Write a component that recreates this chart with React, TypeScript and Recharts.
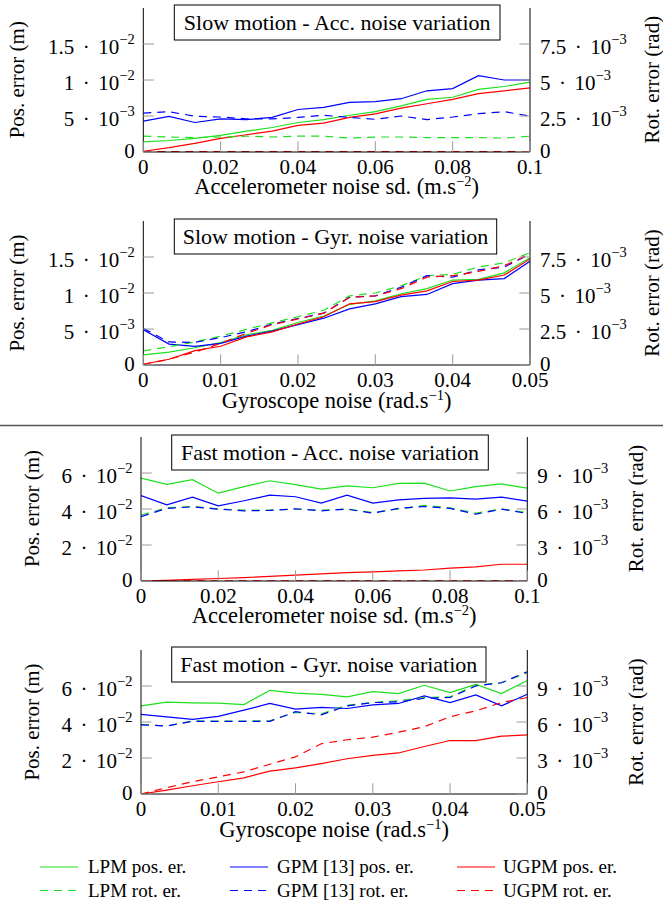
import React from 'react';
import { LineChart, Line, XAxis, YAxis } from 'recharts';

const FONT = '"Liberation Serif", "Times New Roman", Times, serif';
const GREEN = '#1ee01e';
const BLUE = '#0000ff';
const RED = '#ff0000';
const TICK_GRAY = '#9a9a9a';

// noise levels on the x axes
const accNoise = [0, 0.00667, 0.01333, 0.02, 0.02667, 0.03333, 0.04, 0.04667, 0.05333, 0.06, 0.06667, 0.07333, 0.08, 0.08667, 0.09333, 0.1];
const gyrNoise = [0, 0.00333, 0.00667, 0.01, 0.01333, 0.01667, 0.02, 0.02333, 0.02667, 0.03, 0.03333, 0.03667, 0.04, 0.04333, 0.04667, 0.05];

const accTicks = [0, 0.02, 0.04, 0.06, 0.08, 0.1];
const gyrTicks = [0, 0.01, 0.02, 0.03, 0.04, 0.05];
const slowPosTicks = [0, 0.005, 0.01, 0.015];
const slowRotTicks = [0, 0.0025, 0.005, 0.0075];
const fastPosTicks = [0, 0.02, 0.04, 0.06];
const fastRotTicks = [0, 0.003, 0.006, 0.009];

// slow motion - acc. noise
const slowAccLpmPos = [0.0014, 0.0016, 0.0019, 0.0023, 0.0029, 0.0034, 0.0041, 0.0045, 0.0051, 0.0056, 0.0064, 0.0073, 0.0076, 0.0087, 0.0091, 0.0097];
const slowAccGpmPos = [0.0043, 0.00495, 0.0041, 0.0046, 0.0045, 0.0048, 0.0059, 0.0062, 0.0069, 0.007, 0.0074, 0.0085, 0.0088, 0.0106, 0.01, 0.01];
const slowAccUgpmPos = [0.0001, 0.0006, 0.0012, 0.0019, 0.0024, 0.0029, 0.0037, 0.004, 0.0048, 0.0053, 0.0061, 0.0067, 0.0073, 0.0081, 0.0085, 0.0089];
const slowAccLpmRot = [0.0011, 0.00104, 0.001, 0.00104, 0.0011, 0.00104, 0.0011, 0.0011, 0.00097, 0.00104, 0.00104, 0.001, 0.001, 0.001, 0.00097, 0.0011];
const slowAccGpmRot = [0.0027, 0.0028, 0.00248, 0.00243, 0.0023, 0.0023, 0.0024, 0.00255, 0.0024, 0.00227, 0.0025, 0.00225, 0.00243, 0.00266, 0.0028, 0.0025];
const slowAccUgpmRot = [0.00002, 0.00002, 0.00002, 0.00002, 0.00002, 0.00002, 0.00002, 0.00002, 0.00002, 0.00002, 0.00002, 0.00002, 0.00002, 0.00002, 0.00002, 0.00002];

// slow motion - gyr. noise
const slowGyrLpmPos = [0.0014, 0.0018, 0.0024, 0.0031, 0.0042, 0.0048, 0.0059, 0.0068, 0.0084, 0.0089, 0.0099, 0.0106, 0.0118, 0.0119, 0.0128, 0.0149];
const slowGyrGpmPos = [0.0049, 0.0029, 0.0026, 0.003, 0.004, 0.0047, 0.0056, 0.0065, 0.0078, 0.0085, 0.0095, 0.0098, 0.0113, 0.0118, 0.012, 0.0144];
const slowGyrUgpmPos = [0.0001, 0.0008, 0.002, 0.0026, 0.0039, 0.0046, 0.0057, 0.0067, 0.0085, 0.0088, 0.0097, 0.0103, 0.0116, 0.0118, 0.0125, 0.0147];
const slowGyrLpmRot = [0.00097, 0.00127, 0.0016, 0.002, 0.00247, 0.00293, 0.00335, 0.0038, 0.0048, 0.005, 0.0055, 0.0062, 0.0063, 0.0068, 0.0071, 0.0078];
const slowGyrGpmRot = [0.00254, 0.0016, 0.00157, 0.0019, 0.0023, 0.00284, 0.00323, 0.0036, 0.0047, 0.0048, 0.0054, 0.0062, 0.0061, 0.0066, 0.0068, 0.0077];
const slowGyrUgpmRot = [0.00005, 0.0004, 0.0009, 0.0015, 0.0022, 0.0028, 0.0032, 0.0036, 0.0047, 0.0048, 0.0053, 0.0061, 0.0062, 0.0065, 0.0069, 0.0077];

// fast motion - acc. noise
const fastAccLpmPos = [0.0572, 0.0537, 0.0563, 0.0488, 0.0524, 0.0557, 0.0535, 0.0511, 0.0529, 0.0518, 0.0542, 0.0544, 0.05, 0.0524, 0.0539, 0.0516];
const fastAccGpmPos = [0.0474, 0.0423, 0.0466, 0.0418, 0.0446, 0.0477, 0.0468, 0.0433, 0.0477, 0.0433, 0.0451, 0.0459, 0.0462, 0.0455, 0.0466, 0.0444];
const fastAccUgpmPos = [0, 0.0004, 0.0009, 0.0014, 0.0019, 0.0026, 0.0033, 0.004, 0.0046, 0.0051, 0.0056, 0.0061, 0.0071, 0.0078, 0.0093, 0.0093];
const fastAccLpmRot = [0.0055, 0.0061, 0.0062, 0.006, 0.0059, 0.0059, 0.006, 0.0059, 0.006, 0.0057, 0.006, 0.0063, 0.0061, 0.00565, 0.006, 0.0057];
const fastAccGpmRot = [0.00537, 0.00605, 0.00618, 0.00599, 0.00585, 0.00588, 0.00602, 0.00585, 0.00599, 0.00565, 0.00605, 0.00621, 0.00605, 0.00557, 0.00599, 0.00563];
const fastAccUgpmRot = [0.00002, 0.00002, 0.00002, 0.00002, 0.00002, 0.00002, 0.00002, 0.00002, 0.00002, 0.00002, 0.00002, 0.00002, 0.00002, 0.00002, 0.00002, 0.00002];

// fast motion - gyr. noise
const fastGyrLpmPos = [0.049, 0.051, 0.0506, 0.0505, 0.0497, 0.0576, 0.056, 0.0554, 0.054, 0.0569, 0.0558, 0.0604, 0.0563, 0.0609, 0.0558, 0.0631];
const fastGyrGpmPos = [0.0442, 0.0429, 0.0415, 0.0431, 0.0466, 0.0503, 0.0472, 0.0481, 0.0475, 0.0495, 0.0503, 0.0545, 0.0508, 0.055, 0.049, 0.0554];
const fastGyrUgpmPos = [0, 0.0022, 0.0046, 0.0068, 0.009, 0.0127, 0.0145, 0.0169, 0.0196, 0.0215, 0.0228, 0.0264, 0.0297, 0.0297, 0.0321, 0.0328];
const fastGyrLpmRot = [0.00579, 0.00567, 0.00609, 0.00608, 0.00608, 0.0061, 0.0068, 0.00668, 0.0074, 0.00762, 0.00777, 0.00804, 0.0081, 0.00908, 0.00927, 0.0101];
const fastGyrGpmRot = [0.00576, 0.00567, 0.00606, 0.00606, 0.00606, 0.00606, 0.00686, 0.0066, 0.00735, 0.00762, 0.00768, 0.00798, 0.00804, 0.009, 0.00927, 0.01019];
const fastGyrUgpmRot = [0, 0.00053, 0.00102, 0.00143, 0.00185, 0.00248, 0.00309, 0.00419, 0.00452, 0.00474, 0.00515, 0.00561, 0.00644, 0.00693, 0.00762, 0.00804];

const PLOT_H = 144;
const TOP_PAD = 8;
const X_AXIS_H = 60;

const sci = (v: number) => {
  if (v === 0) return null;
  const e = Math.floor(Math.log10(v) + 1e-9);
  const m = Math.round((v / Math.pow(10, e)) * 100) / 100;
  return { m, e };
};

// tick label like "1.5 · 10^-2", centred on the tick the way pgfplots does it
const SciText = ({ x, y, v, anchor }: { x: number; y: number; v: number; anchor: string }) => {
  const p = sci(v);
  if (!p) {
    return (
      <text x={x} y={y + 6} textAnchor={anchor} fontFamily={FONT} fontSize={21} fill="#000">
        0
      </text>
    );
  }
  return (
    <text x={x} y={y + 9.5} textAnchor={anchor} fontFamily={FONT} fontSize={21} fill="#000">
      <tspan>{String(p.m)}</tspan>
      <tspan dx={8.5}>·</tspan>
      <tspan dx={8.5}>10</tspan>
      <tspan dy={-10} fontSize={14.5}>{`−${-p.e}`}</tspan>
    </text>
  );
};

const LeftTick = (props: any) => {
  const { x, y, payload } = props;
  return (
    <g>
      <line x1={x} x2={x + 10.7} y1={y} y2={y} stroke={TICK_GRAY} />
      <SciText x={x - 8.5} y={y} v={payload.value} anchor="end" />
    </g>
  );
};

const RightTick = (props: any) => {
  const { x, y, payload } = props;
  return (
    <g>
      <line x1={x - 10.7} x2={x} y1={y} y2={y} stroke={TICK_GRAY} />
      <SciText x={x + 10} y={y} v={payload.value} anchor="start" />
    </g>
  );
};

const BottomTick = (props: any) => {
  const { x, y, payload } = props;
  return (
    <g>
      <line x1={x} x2={x} y1={y} y2={y - 10.7} stroke={TICK_GRAY} />
      <text x={x} y={y + 22} textAnchor="middle" fontFamily={FONT} fontSize={21} fill="#000">
        {String(payload.value)}
      </text>
    </g>
  );
};

type PanelCfg = {
  title: string;
  xTitle: string;
  xSup: string;
  x: number[];
  xMax: number;
  xTicks: number[];
  posMax: number;
  posTicks: number[];
  rotMax: number;
  rotTicks: number[];
  lpmPos: number[];
  gpmPos: number[];
  ugpmPos: number[];
  lpmRot: number[];
  gpmRot: number[];
  ugpmRot: number[];
  left: number;
  right: number;
  bottom: number;
  box: { x: number; y: number; w: number };
  leftTitleX: number;
  rightTitleX: number;
};

const panels: PanelCfg[] = [
  {
    title: 'Slow motion - Acc. noise variation',
    xTitle: 'Accelerometer noise sd. (m.s',
    xSup: '−2',
    x: accNoise, xMax: 0.1, xTicks: accTicks,
    posMax: 0.02, posTicks: slowPosTicks, rotMax: 0.01, rotTicks: slowRotTicks,
    lpmPos: slowAccLpmPos, gpmPos: slowAccGpmPos, ugpmPos: slowAccUgpmPos,
    lpmRot: slowAccLpmRot, gpmRot: slowAccGpmRot, ugpmRot: slowAccUgpmRot,
    left: 143.3, right: 530, bottom: 151.7,
    box: { x: 174.3, y: 5, w: 325.7 },
    leftTitleX: 17, rightTitleX: 652,
  },
  {
    title: 'Slow motion - Gyr. noise variation',
    xTitle: 'Gyroscope noise (rad.s',
    xSup: '−1',
    x: gyrNoise, xMax: 0.05, xTicks: gyrTicks,
    posMax: 0.02, posTicks: slowPosTicks, rotMax: 0.01, rotTicks: slowRotTicks,
    lpmPos: slowGyrLpmPos, gpmPos: slowGyrGpmPos, ugpmPos: slowGyrUgpmPos,
    lpmRot: slowGyrLpmRot, gpmRot: slowGyrGpmRot, ugpmRot: slowGyrUgpmRot,
    left: 143.3, right: 530, bottom: 365,
    box: { x: 174.3, y: 219, w: 322.4 },
    leftTitleX: 17, rightTitleX: 652,
  },
  {
    title: 'Fast motion - Acc. noise variation',
    xTitle: 'Accelerometer noise sd. (m.s',
    xSup: '−2',
    x: accNoise, xMax: 0.1, xTicks: accTicks,
    posMax: 0.08, posTicks: fastPosTicks, rotMax: 0.012, rotTicks: fastRotTicks,
    lpmPos: fastAccLpmPos, gpmPos: fastAccGpmPos, ugpmPos: fastAccUgpmPos,
    lpmRot: fastAccLpmRot, gpmRot: fastAccGpmRot, ugpmRot: fastAccUgpmRot,
    left: 141, right: 527.3, bottom: 580.5,
    box: { x: 171.7, y: 435, w: 316.6 },
    leftTitleX: 32, rightTitleX: 636,
  },
  {
    title: 'Fast motion - Gyr. noise variation',
    xTitle: 'Gyroscope noise (rad.s',
    xSup: '−1',
    x: gyrNoise, xMax: 0.05, xTicks: gyrTicks,
    posMax: 0.08, posTicks: fastPosTicks, rotMax: 0.012, rotTicks: fastRotTicks,
    lpmPos: fastGyrLpmPos, gpmPos: fastGyrGpmPos, ugpmPos: fastGyrUgpmPos,
    lpmRot: fastGyrLpmRot, gpmRot: fastGyrGpmRot, ugpmRot: fastGyrUgpmRot,
    left: 141, right: 527.3, bottom: 794,
    box: { x: 171.7, y: 647, w: 314.3 },
    leftTitleX: 32, rightTitleX: 636,
  },
];

const seriesStyle = [
  { key: 'lpmPos', axis: 'pos', color: GREEN, dash: undefined },
  { key: 'gpmPos', axis: 'pos', color: BLUE, dash: undefined },
  { key: 'ugpmPos', axis: 'pos', color: RED, dash: undefined },
  { key: 'lpmRot', axis: 'rot', color: GREEN, dash: '8 6' },
  { key: 'gpmRot', axis: 'rot', color: BLUE, dash: '8 6' },
  { key: 'ugpmRot', axis: 'rot', color: RED, dash: '8 6' },
];

const legendItems = [
  { label: 'LPM pos. er.', color: GREEN, dash: undefined, col: 0, row: 0 },
  { label: 'GPM [13] pos. er.', color: BLUE, dash: undefined, col: 1, row: 0 },
  { label: 'UGPM pos. er.', color: RED, dash: undefined, col: 2, row: 0 },
  { label: 'LPM rot. er.', color: GREEN, dash: '8 6', col: 0, row: 1 },
  { label: 'GPM [13] rot. er.', color: BLUE, dash: '8 6', col: 1, row: 1 },
  { label: 'UGPM rot. er.', color: RED, dash: '8 6', col: 2, row: 1 },
];

const Panel = ({ cfg }: { cfg: PanelCfg }) => {
  const data = cfg.x.map((x, i) => ({
    x,
    lpmPos: cfg.lpmPos[i],
    gpmPos: cfg.gpmPos[i],
    ugpmPos: cfg.ugpmPos[i],
    lpmRot: cfg.lpmRot[i],
    gpmRot: cfg.gpmRot[i],
    ugpmRot: cfg.ugpmRot[i],
  }));
  const h = TOP_PAD + PLOT_H + X_AXIS_H;
  return (
    <div style={{ position: 'absolute', left: 0, top: cfg.bottom - PLOT_H - TOP_PAD, width: 663, height: h }}>
      <LineChart width={663} height={h} data={data} margin={{ top: TOP_PAD, right: 0, bottom: 0, left: 0 }}>
        <XAxis
          dataKey="x"
          type="number"
          domain={[0, cfg.xMax]}
          ticks={cfg.xTicks}
          interval={0}
          allowDataOverflow
          height={X_AXIS_H}
          tickLine={false}
          tickSize={0}
          tickMargin={0}
          axisLine={{ stroke: '#000' }}
          tick={(p: any) => <BottomTick {...p} />}
        />
        <YAxis
          yAxisId="pos"
          orientation="left"
          width={cfg.left}
          domain={[0, cfg.posMax]}
          ticks={cfg.posTicks}
          interval={0}
          allowDataOverflow
          tickLine={false}
          tickSize={0}
          tickMargin={0}
          axisLine={{ stroke: '#000' }}
          tick={(p: any) => <LeftTick {...p} />}
        />
        <YAxis
          yAxisId="rot"
          orientation="right"
          width={663 - cfg.right}
          domain={[0, cfg.rotMax]}
          ticks={cfg.rotTicks}
          interval={0}
          allowDataOverflow
          tickLine={false}
          tickSize={0}
          tickMargin={0}
          axisLine={{ stroke: '#000' }}
          tick={(p: any) => <RightTick {...p} />}
        />
        {seriesStyle.map((s) => (
          <Line
            key={s.key}
            yAxisId={s.axis}
            dataKey={s.key}
            type="linear"
            stroke={s.color}
            strokeWidth={1.2}
            strokeDasharray={s.dash}
            dot={false}
            activeDot={false}
            isAnimationActive={false}
          />
        ))}
      </LineChart>
    </div>
  );
};

const Annotations = () => (
  <svg width={663} height={903} style={{ position: 'absolute', left: 0, top: 0, pointerEvents: 'none' }}>
    {panels.map((cfg, i) => {
      const mid = cfg.bottom - PLOT_H / 2;
      const cx = (cfg.left + cfg.right) / 2;
      return (
        <g key={i}>
          <rect x={cfg.box.x} y={cfg.box.y} width={cfg.box.w} height={35} fill="#fff" stroke="#000" strokeWidth={1} />
          <text x={cfg.box.x + cfg.box.w / 2} y={cfg.box.y + 25} textAnchor="middle" fontFamily={FONT} fontSize={22} fill="#000">
            {cfg.title}
          </text>
          <text x={cx} y={cfg.bottom + 42.5} textAnchor="middle" fontFamily={FONT} fontSize={22.5} fill="#000">
            <tspan>{cfg.xTitle}</tspan>
            <tspan dy={-8} fontSize={14.5}>{cfg.xSup}</tspan>
            <tspan dy={8}>)</tspan>
          </text>
          <text
            x={cfg.leftTitleX}
            y={mid}
            transform={`rotate(-90 ${cfg.leftTitleX} ${mid})`}
            textAnchor="middle"
            dominantBaseline="central"
            fontFamily={FONT}
            fontSize={21}
            fill="#000"
          >
            Pos. error (m)
          </text>
          <text
            x={cfg.rightTitleX}
            y={mid}
            transform={`rotate(-90 ${cfg.rightTitleX} ${mid})`}
            textAnchor="middle"
            dominantBaseline="central"
            fontFamily={FONT}
            fontSize={21}
            fill="#000"
          >
            Rot. error (rad)
          </text>
        </g>
      );
    })}
    <line x1={0} x2={663} y1={425.5} y2={425.5} stroke="#555" strokeWidth={1.5} />
    {legendItems.map((it) => {
      const lineX = [40, 230, 457][it.col];
      const textX = [88, 277, 503][it.col];
      const y = [867, 890.5][it.row];
      return (
        <g key={it.label}>
          <line x1={lineX} x2={lineX + 38} y1={y} y2={y} stroke={it.color} strokeWidth={1.2} strokeDasharray={it.dash} />
          <text x={textX} y={y + 6} fontFamily={FONT} fontSize={19} fill="#000">
            {it.label}
          </text>
        </g>
      );
    })}
  </svg>
);

export default function App() {
  return (
    <div style={{ position: 'absolute', left: 0, top: 0, width: 663, height: 903, background: '#fff', overflow: 'hidden' }}>
      {panels.map((cfg, i) => (
        <Panel key={i} cfg={cfg} />
      ))}
      <Annotations />
    </div>
  );
}
